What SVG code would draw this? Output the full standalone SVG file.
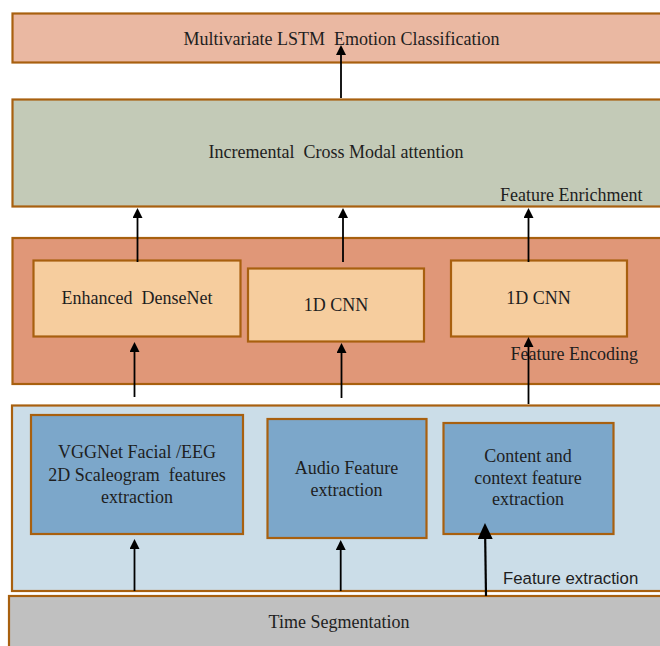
<svg xmlns="http://www.w3.org/2000/svg" width="660" height="646" viewBox="0 0 660 646">
  <style>
    .box { stroke: #a8600f; stroke-width: 2.2; }
    .stage1 { fill: #eab8a2; }
    .stage2 { fill: #c3cab7; }
    .stage3 { fill: #e09778; }
    .stage4 { fill: #cbdde8; }
    .stage5 { fill: #c0c0c0; }
    .enc { fill: #f6cd9e; }
    .ext { fill: #7ca7ca; }
    .t { font-family: "Liberation Serif", "Times New Roman", serif; font-size: 18px; fill: #1e1e1e; white-space: pre; }
    .c { text-anchor: middle; }
    .s { font-family: "Liberation Sans", Arial, sans-serif; font-size: 16.8px; fill: #1e1e1e; }
    .arrow { stroke: #000; stroke-width: 1.8; fill: none; marker-end: url(#head); }
    .arrow-big { stroke: #000; stroke-width: 2.2; fill: none; marker-end: url(#headBig); }
  </style>
  <defs>
    <marker id="head" markerUnits="userSpaceOnUse" markerWidth="10" markerHeight="10" refX="0" refY="5" orient="auto">
      <path d="M0,0 L10,5 L0,10 Z" fill="#000"/>
    </marker>
    <marker id="headBig" markerUnits="userSpaceOnUse" markerWidth="16" markerHeight="15" refX="0" refY="7.5" orient="auto">
      <path d="M0,0 L16,7.5 L0,15 Z" fill="#000"/>
    </marker>
  </defs>

  <!-- Stage bands -->
  <g id="classification">
    <rect class="box stage1" x="12.5" y="13.5" width="660" height="49"/>
    <text class="t c" x="341.5" y="44.5">Multivariate LSTM  Emotion Classification</text>
  </g>
  <g id="enrichment">
    <rect class="box stage2" x="12.5" y="99.5" width="660" height="107"/>
    <text class="t c" x="336" y="158">Incremental  Cross Modal attention</text>
    <text class="t" x="500" y="200.5">Feature Enrichment</text>
  </g>
  <g id="encoding">
    <rect class="box stage3" x="12.5" y="238" width="660" height="146"/>
    <text class="t" x="510.5" y="360">Feature Encoding</text>
  </g>
  <g id="extraction">
    <rect class="box stage4" x="12" y="405.5" width="660" height="185.5"/>
    <text class="s" x="503" y="584">Feature extraction</text>
  </g>
  <g id="segmentation">
    <rect class="box stage5" x="9" y="596" width="660" height="60"/>
    <text class="t c" x="339" y="628">Time Segmentation</text>
  </g>

  <!-- Encoders -->
  <g id="densenet">
    <rect class="box enc" x="33.5" y="260.5" width="207" height="76"/>
    <text class="t c" x="137" y="304">Enhanced  DenseNet</text>
  </g>
  <g id="cnn-audio">
    <rect class="box enc" x="248" y="268.5" width="176" height="73"/>
    <text class="t c" x="336" y="310.5">1D CNN</text>
  </g>
  <g id="cnn-text">
    <rect class="box enc" x="451" y="260.5" width="176" height="76"/>
    <text class="t c" x="538.5" y="304">1D CNN</text>
  </g>

  <!-- Feature extractors -->
  <g id="vggnet">
    <rect class="box ext" x="31" y="415" width="212" height="119"/>
    <text class="t c" x="137" y="458">VGGNet Facial /EEG</text>
    <text class="t c" x="137" y="480.5">2D Scaleogram  features</text>
    <text class="t c" x="137" y="503">extraction</text>
  </g>
  <g id="audio">
    <rect class="box ext" x="267.5" y="419" width="159" height="119"/>
    <text class="t c" x="346.5" y="474">Audio Feature</text>
    <text class="t c" x="346.5" y="496">extraction</text>
  </g>
  <g id="content">
    <rect class="box ext" x="443.5" y="423" width="170" height="111"/>
    <text class="t c" x="528" y="462">Content and</text>
    <text class="t c" x="528" y="483.5">context feature</text>
    <text class="t c" x="528" y="505">extraction</text>
  </g>

  <!-- Connectors -->
  <g id="connectors">
    <line class="arrow" x1="341" y1="98" x2="341" y2="55"/>
    <line class="arrow" x1="137.5" y1="262" x2="137.5" y2="218"/>
    <line class="arrow" x1="343" y1="262" x2="343" y2="218"/>
    <line class="arrow" x1="528.5" y1="262" x2="528.5" y2="218"/>
    <line class="arrow" x1="134.5" y1="397" x2="134.5" y2="352"/>
    <line class="arrow" x1="341.5" y1="398" x2="341.5" y2="353"/>
    <line class="arrow" x1="528.5" y1="404" x2="528.5" y2="347"/>
    <line class="arrow" x1="134.5" y1="591" x2="134.5" y2="549"/>
    <line class="arrow" x1="340.7" y1="591" x2="340.7" y2="550"/>
    <line class="arrow-big" x1="486" y1="596" x2="485.2" y2="539"/>
  </g>
</svg>
